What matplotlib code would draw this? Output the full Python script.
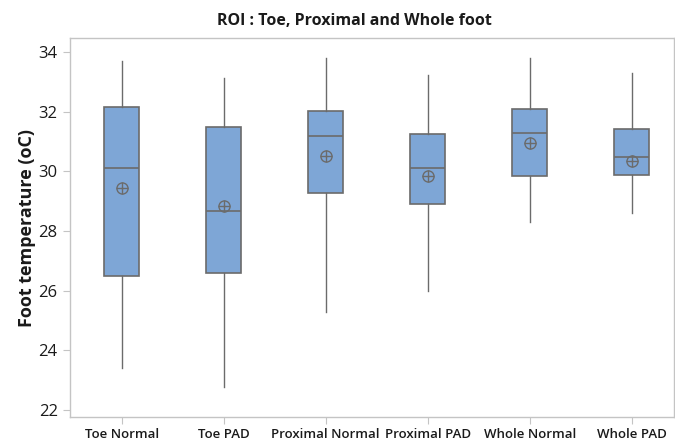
import matplotlib
matplotlib.use('Agg')
import matplotlib.pyplot as plt

plt.rcParams['font.family'] = ['Open Sans', 'DejaVu Sans']

groups = ['Toe Normal', 'Toe PAD', 'Proximal Normal', 'Proximal PAD', 'Whole Normal', 'Whole PAD']
whisker_low = [23.40, 22.78, 25.28, 26.00, 28.30, 28.60]
q1 = [26.50, 26.59, 29.27, 28.90, 29.86, 29.89]
median = [30.12, 28.68, 31.19, 30.12, 31.28, 30.49]
mean = [29.44, 28.85, 30.52, 29.85, 30.95, 30.36]
q3 = [32.15, 31.48, 32.03, 31.27, 32.11, 31.42]
whisker_high = [33.72, 33.13, 33.79, 33.22, 33.80, 33.30]

box_color = '#7ea6d6'
edge_color = '#6b6b6b'
spine_color = '#c4c4c4'

fig = plt.figure(figsize=(6.75, 4.42), dpi=100)
ax = fig.add_axes([0.103, 0.057, 0.895, 0.856])

stats = []
for i, name in enumerate(groups):
    stats.append({'label': name, 'whislo': whisker_low[i], 'q1': q1[i], 'med': median[i],
                  'q3': q3[i], 'whishi': whisker_high[i], 'mean': mean[i]})

positions = list(range(1, len(groups) + 1))
ax.bxp(stats, positions=positions, widths=0.345, showfliers=False, showcaps=False,
       patch_artist=True, showmeans=False,
       boxprops=dict(facecolor=box_color, edgecolor=edge_color, linewidth=1.2),
       medianprops=dict(color=edge_color, linewidth=1.2),
       whiskerprops=dict(color=edge_color, linewidth=1.0))

# mean symbol: circle with a cross
ax.plot(positions, mean, 'o', markersize=8, markerfacecolor='none',
        markeredgecolor=edge_color, markeredgewidth=1.0, zorder=5)
ax.plot(positions, mean, '+', markersize=8, markeredgecolor=edge_color,
        markeredgewidth=1.0, zorder=5)

ax.set_xlim(0.49, 6.41)
ax.set_ylim(21.77, 34.46)
ax.set_yticks([22, 24, 26, 28, 30, 32, 34])
ax.set_xticks(positions)
ax.set_xticklabels(groups, fontsize=9.5, fontweight='semibold', color='#1a1a1a')
ax.tick_params(axis='y', labelsize=12, colors=spine_color, labelcolor='#1a1a1a', length=5)
ax.tick_params(axis='x', colors=spine_color, labelcolor='#1a1a1a', length=5, pad=3)

for s in ax.spines.values():
    s.set_color(spine_color)
    s.set_linewidth(1.0)

ax.set_ylabel('Foot temperature (oC)', fontsize=13, fontweight='bold', color='#1a1a1a',
              labelpad=2)
ax.set_title('ROI : Toe, Proximal and Whole foot', fontsize=11.5, fontweight='bold',
             color='#1a1a1a', pad=10, x=0.472)

fig.savefig('out.png', dpi=100)
